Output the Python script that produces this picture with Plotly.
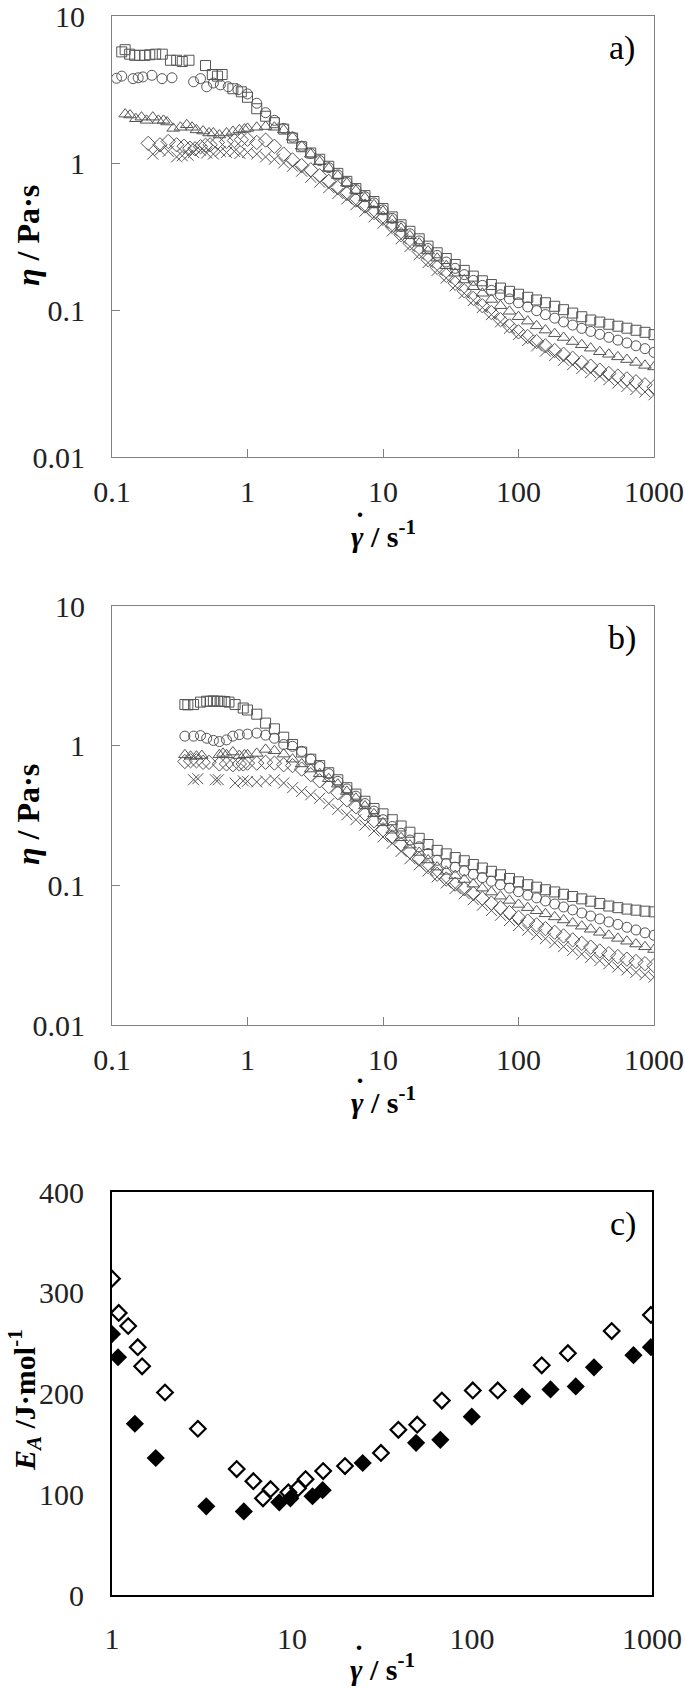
import plotly.graph_objects as go

W, H = 685, 1688
FONT = "Liberation Serif"

# ---------------- data ----------------
GAMMA_HI = [1.0, 1.17, 1.36, 1.58, 1.85, 2.15, 2.51, 2.93, 3.41, 3.98, 4.64, 5.41, 6.31, 7.36, 8.58,
            10.0, 11.7, 13.6, 15.8, 18.5, 21.5, 25.1, 29.3, 34.1, 39.8, 46.4, 54.1, 63.1, 73.6, 85.8,
            100, 117, 136, 158, 185, 215, 251, 293, 341, 398, 464, 541, 631, 736, 858, 1000]

# panel a) low shear parts
a_sq_lo_x = [0.118, 0.125, 0.135, 0.147, 0.16, 0.175, 0.19, 0.21, 0.235, 0.27, 0.30, 0.33, 0.37, 0.49, 0.55, 0.60, 0.65, 0.78, 0.90]
a_sq_lo_y = [5.7, 5.9, 5.5, 5.4, 5.4, 5.4, 5.45, 5.5, 5.5, 5.0, 5.0, 4.9, 5.0, 4.6, 4.0, 3.9, 4.0, 3.2, 3.05]
a_ci_lo_x = [0.108, 0.118, 0.143, 0.156, 0.169, 0.197, 0.234, 0.277, 0.40, 0.45, 0.50, 0.56, 0.63, 0.72, 0.85]
a_ci_lo_y = [3.77, 3.9, 3.75, 3.8, 3.85, 3.95, 3.75, 3.8, 3.57, 3.75, 3.3, 3.5, 3.4, 3.3, 3.15]
a_tr_lo_x = [0.125, 0.136, 0.15, 0.165, 0.18, 0.20, 0.22, 0.24, 0.255, 0.283, 0.32, 0.356, 0.39, 0.42, 0.47, 0.52, 0.56, 0.62, 0.70, 0.78, 0.87, 0.95]
a_tr_lo_y = [2.15, 2.12, 2.0, 2.05, 1.95, 2.05, 1.95, 1.95, 1.9, 1.72, 1.75, 1.82, 1.75, 1.68, 1.65, 1.6, 1.6, 1.55, 1.6, 1.64, 1.68, 1.7]
a_di_lo_x = [0.185, 0.226, 0.26, 0.30, 0.34, 0.376, 0.41, 0.45, 0.49, 0.53, 0.60, 0.70, 0.80, 0.90]
a_di_lo_y = [1.36, 1.33, 1.4, 1.33, 1.3, 1.26, 1.25, 1.29, 1.32, 1.33, 1.38, 1.4, 1.42, 1.44]
a_x_lo_x = [0.20, 0.226, 0.26, 0.30, 0.33, 0.364, 0.40, 0.45, 0.50, 0.56, 0.63, 0.70, 0.80, 0.88]
a_x_lo_y = [1.15, 1.22, 1.2, 1.1, 1.12, 1.13, 1.18, 1.22, 1.17, 1.15, 1.2, 1.18, 1.2, 1.16]

# panel a) values on GAMMA_HI
a_sq_hi = [2.80, 2.34, 2.08, 1.88, 1.70, 1.48, 1.29, 1.17, 1.06, 0.95, 0.85, 0.75, 0.67, 0.60, 0.547,
           0.49, 0.43, 0.38, 0.343, 0.305, 0.272, 0.245, 0.224, 0.204, 0.186, 0.17, 0.158, 0.149, 0.141, 0.134,
           0.128, 0.122, 0.117, 0.112, 0.106, 0.1005, 0.0953, 0.090, 0.0855, 0.0828, 0.080, 0.0776, 0.0752, 0.0728, 0.0705, 0.068]
a_ci_hi = [2.95, 2.55, 2.2, 1.95, 1.72, 1.5, 1.3, 1.16, 1.04, 0.93, 0.83, 0.74, 0.66, 0.59, 0.535,
           0.48, 0.42, 0.37, 0.33, 0.295, 0.262, 0.235, 0.212, 0.192, 0.174, 0.159, 0.147, 0.136, 0.127, 0.119,
           0.112, 0.105, 0.099, 0.093, 0.088, 0.083, 0.079, 0.075, 0.0715, 0.0683, 0.0652, 0.0624, 0.0597, 0.0571, 0.0546, 0.0515]
a_tr_hi = [1.72, 1.75, 1.77, 1.75, 1.68, 1.5, 1.3, 1.15, 1.02, 0.92, 0.82, 0.73, 0.65, 0.58, 0.52,
           0.47, 0.41, 0.36, 0.32, 0.285, 0.252, 0.225, 0.2, 0.178, 0.16, 0.144, 0.13, 0.118, 0.107, 0.098,
           0.09, 0.084, 0.078, 0.073, 0.069, 0.065, 0.061, 0.058, 0.055, 0.052, 0.050, 0.048, 0.046, 0.044, 0.042, 0.041]
a_di_hi = [1.45, 1.38, 1.43, 1.3, 1.15, 1.05, 0.96, 0.9, 0.82, 0.75, 0.68, 0.62, 0.56, 0.51, 0.46,
           0.42, 0.37, 0.325, 0.285, 0.25, 0.22, 0.195, 0.172, 0.152, 0.135, 0.12, 0.107, 0.096, 0.086, 0.078,
           0.071, 0.066, 0.061, 0.057, 0.053, 0.05, 0.047, 0.044, 0.0415, 0.039, 0.037, 0.0355, 0.034, 0.0325, 0.031, 0.030]
a_x_hi = [1.18, 1.15, 1.1, 1.06, 1.0, 0.95, 0.88, 0.8, 0.74, 0.68, 0.62, 0.57, 0.52, 0.47, 0.43,
          0.39, 0.345, 0.305, 0.27, 0.238, 0.21, 0.186, 0.165, 0.146, 0.13, 0.116, 0.104, 0.093, 0.083, 0.075,
          0.068, 0.062, 0.057, 0.0525, 0.049, 0.0455, 0.0425, 0.040, 0.0375, 0.0355, 0.0335, 0.0318, 0.0302, 0.0288, 0.0277, 0.0265]

# panel b) low shear parts
b_sq_lo_x = [0.345, 0.363, 0.40, 0.45, 0.50, 0.53, 0.56, 0.60, 0.64, 0.68, 0.73, 0.81, 0.93]
b_sq_lo_y = [1.97, 1.96, 1.97, 2.05, 2.08, 2.08, 2.09, 2.08, 2.08, 2.07, 2.05, 1.97, 1.86]
b_ci_lo_x = [0.345, 0.40, 0.45, 0.50, 0.56, 0.62, 0.70, 0.78, 0.87]
b_ci_lo_y = [1.17, 1.17, 1.18, 1.13, 1.09, 1.07, 1.10, 1.17, 1.20]
b_tr_lo_x = [0.345, 0.38, 0.42, 0.46, 0.62, 0.66, 0.70, 0.78, 0.87, 0.95]
b_tr_lo_y = [0.86, 0.84, 0.84, 0.85, 0.86, 0.88, 0.86, 0.90, 0.85, 0.86]
b_di_lo_x = [0.345, 0.38, 0.42, 0.47, 0.52, 0.62, 0.70, 0.78, 0.87, 0.93]
b_di_lo_y = [0.77, 0.78, 0.78, 0.76, 0.76, 0.74, 0.74, 0.73, 0.74, 0.74]
b_x_lo_x = [0.40, 0.43, 0.58, 0.61, 0.81, 0.93]
b_x_lo_y = [0.57, 0.58, 0.57, 0.57, 0.54, 0.56]

# panel b) values on GAMMA_HI
b_sq_hi = [1.80, 1.68, 1.45, 1.32, 1.15, 1.02, 0.90, 0.80, 0.72, 0.64, 0.57, 0.50, 0.45, 0.40, 0.355,
           0.325, 0.295, 0.266, 0.24, 0.217, 0.196, 0.178, 0.168, 0.158, 0.150, 0.141, 0.133, 0.126, 0.119, 0.112,
           0.106, 0.101, 0.097, 0.093, 0.0897, 0.0863, 0.0832, 0.080, 0.077, 0.0741, 0.0711, 0.0692, 0.0676, 0.0664, 0.0653, 0.0646]
b_ci_hi = [1.21, 1.23, 1.19, 1.13, 1.02, 0.99, 0.91, 0.80, 0.71, 0.63, 0.555, 0.49, 0.435, 0.385, 0.34,
           0.295, 0.264, 0.236, 0.211, 0.189, 0.169, 0.151, 0.143, 0.135, 0.127, 0.12, 0.1135, 0.107, 0.101, 0.0955,
           0.09, 0.085, 0.0813, 0.0773, 0.0735, 0.070, 0.0667, 0.0634, 0.0603, 0.0575, 0.0547, 0.0525, 0.0501, 0.0479, 0.0457, 0.0439]
b_tr_hi = [0.86, 0.88, 0.94, 0.92, 0.87, 0.80, 0.74, 0.68, 0.63, 0.58, 0.53, 0.47, 0.42, 0.37, 0.325,
           0.28, 0.248, 0.219, 0.194, 0.172, 0.152, 0.135, 0.126, 0.1175, 0.11, 0.102, 0.0955, 0.0895, 0.0836, 0.078,
           0.073, 0.0692, 0.0658, 0.0625, 0.0594, 0.0565, 0.0537, 0.051, 0.0485, 0.0461, 0.0439, 0.0417, 0.0398, 0.038, 0.0363, 0.0347]
b_di_hi = [0.75, 0.75, 0.76, 0.75, 0.73, 0.72, 0.68, 0.62, 0.56, 0.51, 0.46, 0.41, 0.365, 0.325, 0.29,
           0.25, 0.222, 0.196, 0.174, 0.154, 0.136, 0.12, 0.111, 0.102, 0.0946, 0.0875, 0.0807, 0.0746, 0.069, 0.0638,
           0.059, 0.0555, 0.0521, 0.049, 0.0461, 0.0434, 0.0407, 0.0384, 0.0361, 0.0339, 0.0324, 0.0309, 0.0296, 0.0285, 0.0275, 0.0266]
b_x_hi = [0.555, 0.55, 0.56, 0.57, 0.54, 0.50, 0.47, 0.445, 0.42, 0.385, 0.35, 0.32, 0.295, 0.27, 0.245,
          0.222, 0.20, 0.175, 0.155, 0.14, 0.127, 0.115, 0.104, 0.095, 0.087, 0.079, 0.072, 0.066, 0.061, 0.056,
          0.0515, 0.0477, 0.0444, 0.0415, 0.0388, 0.0364, 0.0342, 0.0322, 0.0305, 0.0289, 0.0274, 0.026, 0.0248, 0.0238, 0.0229, 0.022]

# panel c) activation energy
c_open_x = [1.0, 1.09, 1.23, 1.39, 1.47, 1.97, 3.0, 4.93, 6.1, 6.9, 7.6, 9.55, 10.8, 11.9, 14.9, 19.7,
            31.2, 39, 49.6, 68, 101, 139, 244, 341, 597, 986]
c_open_y = [314, 280, 267, 246, 227, 201, 165, 125, 113, 96, 105, 102, 106, 115, 123, 128,
            141, 164, 169, 193, 203, 203, 228, 240, 262, 278]
c_fill_x = [1.0, 1.08, 1.34, 1.75, 3.34, 5.4, 8.5, 9.8, 13, 14.8, 24.7, 48.9, 66.7, 99.7, 190, 273, 377, 476, 789, 986]
c_fill_y = [259, 236, 170, 136, 88, 83, 92, 96, 98, 104, 131, 151, 154, 177, 197, 204, 207, 226, 238, 246]

X_TICKS_AB = [0.1, 1, 10, 100, 1000]
X_TICKTEXT_AB = ["0.1", "1", "10", "100", "1000"]
Y_TICKS_AB = [0.01, 0.1, 1, 10]
Y_TICKTEXT_AB = ["0.01", "0.1", "1", "10"]
X_TICKS_C = [1, 10, 100, 1000]
X_TICKTEXT_C = ["1", "10", "100", "1000"]
Y_TICKS_C = [0, 100, 200, 300, 400]

# ---------------- figure ----------------
fig = go.Figure()
MCOL = "#555555"

def add_series(xs, ys, symbol, size, xa, ya):
    fig.add_trace(go.Scatter(
        x=xs, y=ys, mode="markers", xaxis=xa, yaxis=ya, showlegend=False,
        marker=dict(symbol=symbol, size=size, color=MCOL,
                    line=dict(color=MCOL, width=1))))

# panel a
add_series(a_x_lo_x + GAMMA_HI, a_x_lo_y + a_x_hi, "x-thin-open", 11, "x", "y")
add_series(a_di_lo_x + GAMMA_HI, a_di_lo_y + a_di_hi, "diamond-open", 11, "x", "y")
add_series(a_tr_lo_x + GAMMA_HI, a_tr_lo_y + a_tr_hi, "triangle-up-open", 11, "x", "y")
add_series(a_ci_lo_x + GAMMA_HI, a_ci_lo_y + a_ci_hi, "circle-open", 10, "x", "y")
add_series(a_sq_lo_x + GAMMA_HI, a_sq_lo_y + a_sq_hi, "square-open", 10, "x", "y")
# panel b
add_series(b_x_lo_x + GAMMA_HI, b_x_lo_y + b_x_hi, "x-thin-open", 11, "x2", "y2")
add_series(b_di_lo_x + GAMMA_HI, b_di_lo_y + b_di_hi, "diamond-open", 11, "x2", "y2")
add_series(b_tr_lo_x + GAMMA_HI, b_tr_lo_y + b_tr_hi, "triangle-up-open", 11, "x2", "y2")
add_series(b_ci_lo_x + GAMMA_HI, b_ci_lo_y + b_ci_hi, "circle-open", 10, "x2", "y2")
add_series(b_sq_lo_x + GAMMA_HI, b_sq_lo_y + b_sq_hi, "square-open", 10, "x2", "y2")
# panel c
fig.add_trace(go.Scatter(x=c_open_x, y=c_open_y, mode="markers", xaxis="x3", yaxis="y3", showlegend=False,
                         marker=dict(symbol="diamond-open", size=12, color="black", line=dict(color="black", width=2.2))))
fig.add_trace(go.Scatter(x=c_fill_x, y=c_fill_y, mode="markers", xaxis="x3", yaxis="y3", showlegend=False,
                         marker=dict(symbol="diamond", size=14, color="black", line=dict(width=0))))

def px_x(v):
    return v / W

def px_y(v):
    return 1 - v / H

tickfont = dict(family=FONT, size=30, color="#222222")
AB_LINE = "#808080"

def ab_x(dom_y_anchor):
    return dict(type="log", range=[-1, 3], domain=[px_x(112), px_x(654)], anchor=dom_y_anchor,
                showline=True, linecolor=AB_LINE, linewidth=1, mirror=True,
                ticks="inside", ticklen=8, tickcolor=AB_LINE, tickwidth=1,
                tickvals=X_TICKS_AB, ticktext=X_TICKTEXT_AB, tickfont=tickfont,
                ticklabelstandoff=8, ticklabeloverflow="allow",
                showgrid=False, zeroline=False, automargin=False)

def ab_y(dom, anchor):
    return dict(type="log", range=[-2, 1], domain=dom, anchor=anchor,
                showline=True, linecolor=AB_LINE, linewidth=1, mirror=True,
                ticks="inside", ticklen=8, tickcolor=AB_LINE, tickwidth=1,
                tickvals=Y_TICKS_AB, ticktext=Y_TICKTEXT_AB, tickfont=tickfont,
                ticklabelstandoff=20, ticklabeloverflow="allow",
                showgrid=False, zeroline=False, automargin=False)

fig.update_layout(
    width=W, height=H, margin=dict(l=0, r=0, t=0, b=0, autoexpand=False),
    paper_bgcolor="white", plot_bgcolor="white",
    xaxis=ab_x("y"),
    yaxis=ab_y([px_y(457), px_y(16)], "x"),
    xaxis2=ab_x("y2"),
    yaxis2=ab_y([px_y(1025), px_y(606)], "x2"),
    xaxis3=dict(type="log", range=[0, 3], domain=[px_x(112), px_x(652)], anchor="y3",
                showline=True, linecolor="black", linewidth=2, mirror=True, ticks="",
                tickvals=X_TICKS_C, ticktext=X_TICKTEXT_C, tickfont=tickfont,
                ticklabelstandoff=16, ticklabeloverflow="allow",
                showgrid=False, zeroline=False, automargin=False),
    yaxis3=dict(range=[0, 400], domain=[px_y(1595), px_y(1192)], anchor="x3",
                showline=True, linecolor="black", linewidth=2, mirror=True, ticks="",
                tickvals=Y_TICKS_C, tickfont=tickfont, ticklabelstandoff=20,
                ticklabeloverflow="allow",
                showgrid=False, zeroline=False, automargin=False),
)

def ann(text, x, y, size, angle=0):
    fig.add_annotation(text=text, x=px_x(x), y=px_y(y), xref="paper", yref="paper",
                       showarrow=False, textangle=angle, xanchor="center", yanchor="middle",
                       font=dict(family=FONT, size=size, color="black"))

# x-axis titles: gamma with an over-dot drawn as a separate glyph
XT = "<b><i>γ</i> / s<sup>-1</sup></b>"
YT = "<b><i>η</i> / Pa·s</b>"
for cx, cy in [(383, 534), (383, 1100), (382, 1667)]:
    ann(XT, cx, cy, 30)
    ann("<b>˙</b>", cx - 23, cy - 12, 30)
ann(YT, 28, 236, 32, -90)
ann(YT, 28, 815, 32, -90)
ann("<b><i>E<sub>A</sub></i> /J·mol<sup>-1</sup></b>", 24, 1400, 30, -90)
ann("a)", 622, 48, 34)
ann("b)", 622, 638, 34)
ann("c)", 623, 1224, 34)

fig.write_html(
    "out.html",
    config={"displayModeBar": False, "staticPlot": True},
    post_script="document.documentElement.style.margin='0';document.body.style.margin='0';"
                "document.body.style.overflow='hidden';document.documentElement.style.overflow='hidden';",
)
